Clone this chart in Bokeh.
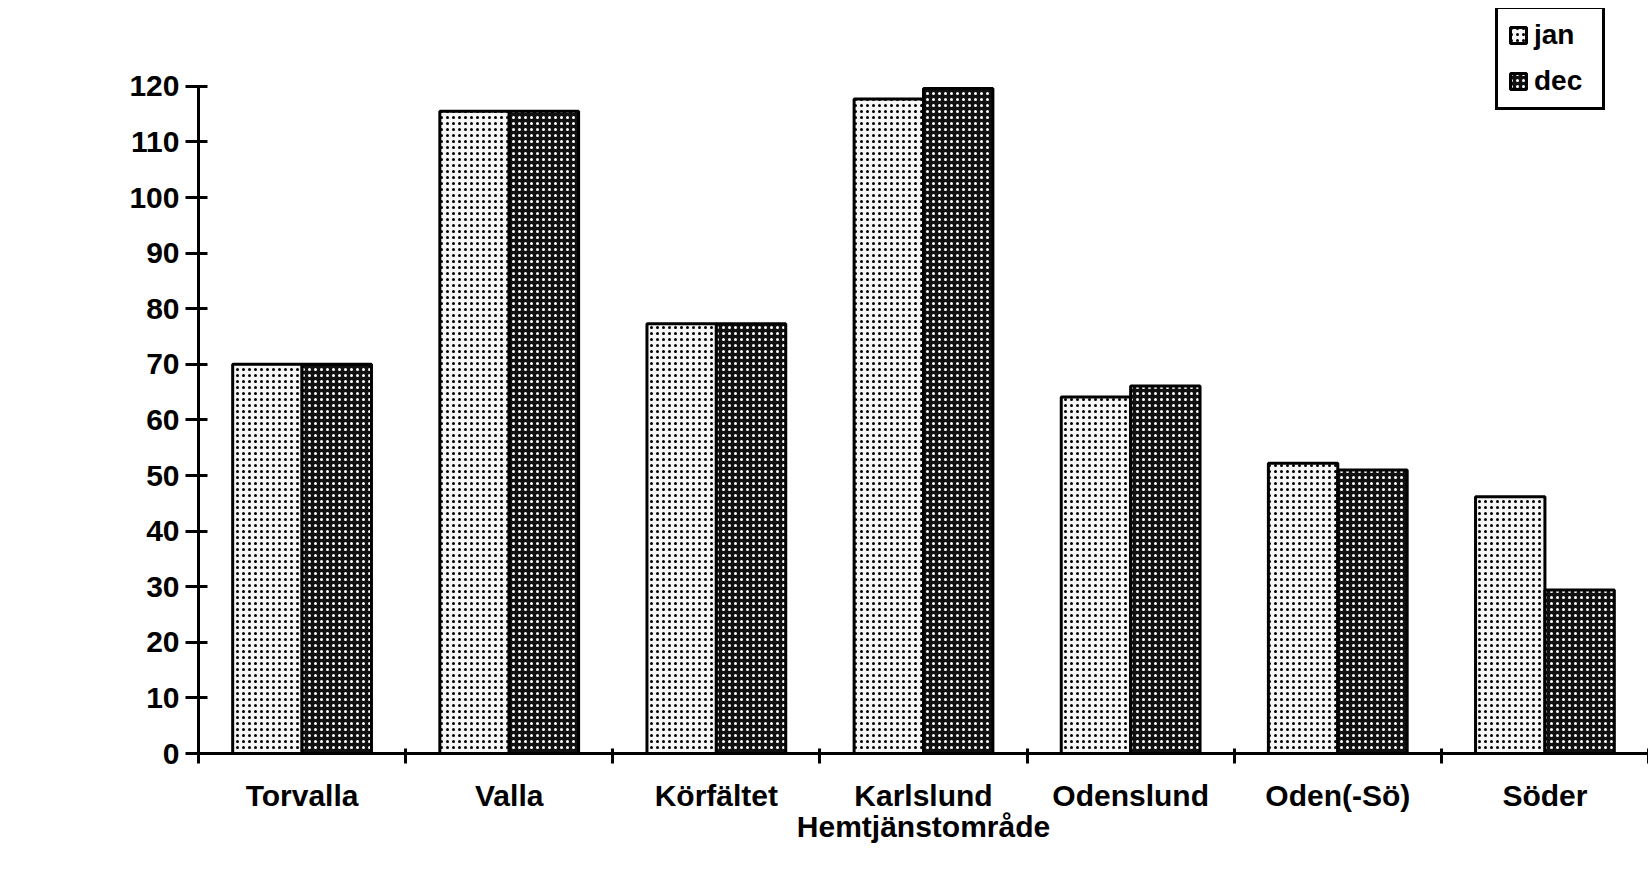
import numpy as np
from bokeh.plotting import figure
from bokeh.models import (Range1d, FixedTicker, ColumnDataSource, Legend,
                          LegendItem, LinearAxis)
from bokeh.embed import file_html
from bokeh.resources import INLINE

categories = ["Torvalla", "Valla", "Körfältet", "Karlslund", "Odenslund", "Oden(-Sö)", "Söder"]
jan = [70, 115.5, 77.3, 117.7, 64.1, 52.2, 46.2]
dec = [70, 115.5, 77.3, 119.6, 66.1, 51.0, 29.4]
series = ["jan", "dec"]
y_ticks = list(range(0, 121, 10))
x_title = "Hemtjänstområde"

FONT = "Liberation Sans"
n = len(categories)
idx = np.arange(n)
bar_w = 0.335

src = ColumnDataSource(dict(
    cat=categories,
    x_jan=idx - bar_w / 2,
    x_dec=idx + bar_w / 2,
    jan=jan,
    dec=dec,
))

p = figure(width=1648, height=862,
           x_range=Range1d(-0.5, n - 0.5), y_range=Range1d(0, 134.0),
           output_backend="svg", toolbar_location=None,
           x_axis_type=None, y_axis_type=None,
           min_border_left=198, min_border_right=0,
           min_border_top=8, min_border_bottom=109)
p.outline_line_color = None
p.background_fill_color = "white"

r_jan = p.vbar(x="x_jan", top="jan", bottom=0, width=bar_w, source=src,
               fill_color="#f6f6f6", hatch_pattern="dot", hatch_color="black",
               hatch_scale=6, hatch_weight=2.4,
               line_color="black", line_width=3)
r_dec = p.vbar(x="x_dec", top="dec", bottom=0, width=bar_w, source=src,
               fill_color="#111111", hatch_pattern="dot", hatch_color="white",
               hatch_scale=6, hatch_weight=2.2,
               line_color="black", line_width=3)

# y axis
yaxis = LinearAxis(ticker=FixedTicker(ticks=y_ticks), bounds=(0, 120))
yaxis.axis_line_width = 3
yaxis.major_tick_line_width = 3
yaxis.major_tick_in = 9
yaxis.major_tick_out = 13
yaxis.minor_tick_line_color = None
yaxis.major_label_standoff = 6
yaxis.major_label_text_font = FONT
yaxis.major_label_text_font_style = "bold"
yaxis.major_label_text_font_size = "30px"
yaxis.major_label_text_color = "black"
p.add_layout(yaxis, "left")

# x axis: labels at category centres, ticks at group boundaries
xaxis = LinearAxis(ticker=FixedTicker(ticks=list(idx),
                                      minor_ticks=list(np.arange(n + 1) - 0.5)))
xaxis.major_label_overrides = {int(i): c for i, c in zip(idx, categories)}
xaxis.axis_line_width = 3
xaxis.major_tick_line_color = None
xaxis.major_tick_in = 0
xaxis.major_tick_out = 10
xaxis.minor_tick_line_width = 3
xaxis.minor_tick_in = 5
xaxis.minor_tick_out = 10
xaxis.major_label_standoff = 15
xaxis.major_label_text_font = FONT
xaxis.major_label_text_font_style = "bold"
xaxis.major_label_text_font_size = "30px"
xaxis.major_label_text_color = "black"
xaxis.axis_label = x_title
xaxis.axis_label_standoff = -5
xaxis.axis_label_text_font = FONT
xaxis.axis_label_text_font_style = "bold"
xaxis.axis_label_text_font_size = "30px"
xaxis.axis_label_text_color = "black"
p.add_layout(xaxis, "below")

legend = Legend(items=[LegendItem(label=series[0], renderers=[r_jan]),
                       LegendItem(label=series[1], renderers=[r_dec])],
                location=(1297, 643), margin=0,
                border_line_color="black", border_line_width=3,
                border_line_alpha=1,
                padding=10, spacing=14,
                glyph_width=20, glyph_height=20,
                label_text_font=FONT, label_text_font_style="bold",
                label_text_font_size="28px", label_text_color="black",
                label_height=32, label_width=58,
                label_standoff=6, background_fill_color="white",
                background_fill_alpha=1)
p.add_layout(legend)

open("out.html", "w").write(file_html(p, INLINE))
